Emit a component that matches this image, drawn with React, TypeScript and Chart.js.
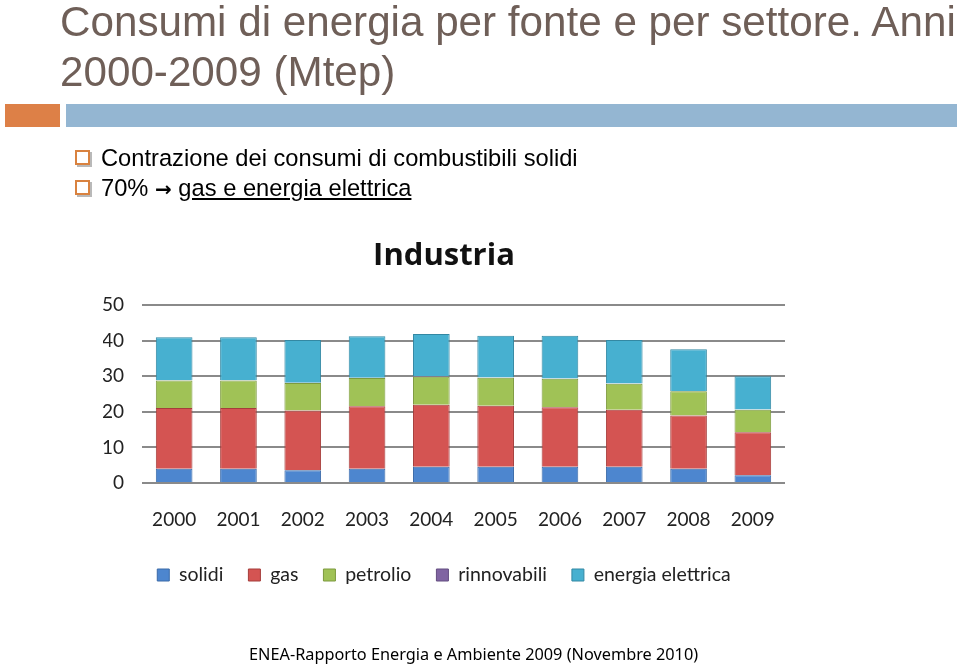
import React, { useEffect, useRef } from "react";
import { Chart, registerables } from "chart.js";

Chart.register(...registerables);

const years = ["2000", "2001", "2002", "2003", "2004", "2005", "2006", "2007", "2008", "2009"];
const solidi = [4.0, 4.0, 3.6, 4.0, 4.6, 4.6, 4.6, 4.6, 4.0, 2.2];
const gas = [17.1, 17.1, 16.8, 17.6, 17.4, 17.1, 16.7, 16.0, 15.0, 12.1];
const petrolio = [7.7, 7.7, 7.7, 7.9, 7.9, 7.9, 8.0, 7.3, 6.8, 6.3];
const rinnovabili = [0.1, 0.1, 0.1, 0.1, 0.1, 0.1, 0.1, 0.1, 0.1, 0.1];
const elettrica = [12.1, 12.1, 12.0, 11.7, 11.9, 11.7, 12.0, 12.2, 11.7, 9.3];
const yTicks = [0, 10, 20, 30, 40, 50];

const chartFont = "Lato, 'Open Sans', sans-serif";

export default function App() {
  const ref = useRef<HTMLCanvasElement | null>(null);

  useEffect(() => {
    if (!ref.current) return;
    const mk = (label: string, data: number[], bg: string, bd: string) => ({
      label,
      data,
      backgroundColor: bg,
      borderColor: bd,
      borderWidth: 1,
      barPercentage: 0.57,
      categoryPercentage: 1,
    });
    const chart = new Chart(ref.current, {
      type: "bar",
      data: {
        labels: years,
        datasets: [
          mk("solidi", solidi, "#4d86cf", "#3a6aa8"),
          mk("gas", gas, "#d45452", "#a53d3b"),
          mk("petrolio", petrolio, "#a0c256", "#7d9a3f"),
          mk("rinnovabili", rinnovabili, "#8064a2", "#634c80"),
          mk("energia elettrica", elettrica, "#47b0d0", "#3388a3"),
        ],
      },
      options: {
        animation: false,
        responsive: false,
        maintainAspectRatio: false,
        layout: { padding: { top: 230, left: 103, right: 175, bottom: 70.25 } },
        plugins: {
          title: {
            display: true,
            text: "Industria",
            color: "#111",
            font: { family: "'Open Sans', sans-serif", size: 31, weight: "bold" },
            padding: { top: 8, bottom: 30 },
          },
          legend: {
            display: true,
            position: "bottom",
            labels: {
              boxWidth: 12,
              boxHeight: 12,
              padding: 25,
              color: "#222",
              font: { family: chartFont, size: 19.5 },
            },
          },
          tooltip: { enabled: false },
        },
        scales: {
          x: {
            stacked: true,
            grid: { display: false, drawTicks: false },
            border: { display: false },
            ticks: { color: "#222", padding: 25, font: { family: chartFont, size: 19 } },
            afterFit: (s: any) => {
              s.height = 57.25;
            },
          },
          y: {
            stacked: true,
            min: 0,
            max: 50,
            afterBuildTicks: (s: any) => {
              s.ticks = yTicks.map((v) => ({ value: v }));
            },
            grid: { color: "#8a8a8a", lineWidth: 2, drawTicks: false },
            border: { display: false },
            ticks: { color: "#222", padding: 18, font: { family: chartFont, size: 19 } },
            afterFit: (s: any) => {
              s.width = 39;
            },
          },
        },
      },
    } as any);
    return () => chart.destroy();
  }, []);

  const box: React.CSSProperties = {
    position: "absolute",
    width: 11,
    height: 11,
    border: "2px solid #d9823f",
    boxShadow: "2px 2px 0 #b9b9b9",
    background: "#fff",
  };

  return (
    <div style={{ position: "absolute", left: 0, top: 0, width: 960, height: 665, background: "#fff", overflow: "hidden", fontFamily: "'Liberation Sans', Arial, sans-serif" }}>
      <canvas ref={ref} width={960} height={665} style={{ position: "absolute", left: 0, top: 0, width: 960, height: 665 }} />
      <div style={{ position: "absolute", left: 60, top: -4, fontSize: 43, lineHeight: "50px", color: "#6f5f58", whiteSpace: "nowrap", transform: "scaleX(0.981)", transformOrigin: "0 0" }}>
        <div>Consumi di energia per fonte e per settore. Anni</div>
        <div>2000-2009 (Mtep)</div>
      </div>
      <div style={{ position: "absolute", left: 5, top: 104, width: 55, height: 23, background: "#dd8047" }} />
      <div style={{ position: "absolute", left: 66, top: 104, width: 891, height: 23, background: "#94b6d2" }} />
      <div style={{ ...box, left: 75, top: 150 }} />
      <div style={{ ...box, left: 75, top: 180 }} />
      <div style={{ position: "absolute", left: 101, top: 143, fontSize: 23.7, lineHeight: "30px", color: "#000", whiteSpace: "nowrap" }}>
        <div>Contrazione dei consumi di combustibili solidi</div>
        <div>
          70% <span style={{ fontFamily: "'DejaVu Sans', sans-serif", fontSize: 20, fontWeight: "bold" }}>{"\u2192"}</span>{" "}
          <span style={{ textDecoration: "underline" }}>gas e energia elettrica</span>
        </div>
      </div>
      <div style={{ position: "absolute", left: 249, top: 643, fontFamily: "'Noto Sans', sans-serif", fontSize: 16.3, lineHeight: "22px", color: "#000", whiteSpace: "nowrap" }}>
        ENEA-Rapporto Energia e Ambiente 2009 (Novembre 2010)
      </div>
    </div>
  );
}
